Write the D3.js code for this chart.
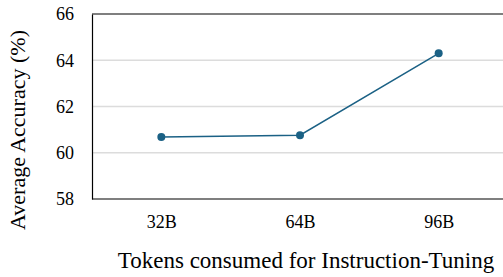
<!DOCTYPE html>
<html><head><meta charset="utf-8">
<script src="https://cdn.jsdelivr.net/npm/d3@7"></script>
<style>body{margin:0;background:#fff}svg{display:block}</style>
</head><body>
<svg id="c" width="503" height="277"></svg>
<script>
const categories = ["32B", "64B", "96B"];
const accuracy = [60.68, 60.76, 64.3];
const yTicks = [58, 60, 62, 64, 66];
const xTitle = "Tokens consumed for Instruction-Tuning";
const yTitle = "Average Accuracy (%)";

const svg = d3.select("#c");
const font = "'Liberation Serif','Times New Roman',serif";
const L = 92, R = 508, T = 14, B = 199;
const x = d3.scalePoint().domain(categories).range([L, R]).padding(0.5);
const y = d3.scaleLinear().domain([58, 66]).range([B, T]);

// gridlines
svg.append("g").selectAll("line").data(yTicks.filter(v => v > 58 && v < 66)).join("line")
  .attr("x1", L).attr("x2", 503).attr("y1", d => y(d)).attr("y2", d => y(d))
  .attr("stroke", "#dcdcdc").attr("stroke-width", 1.3);

// top border
svg.append("line").attr("x1", L).attr("x2", 503).attr("y1", y(66)).attr("y2", y(66))
  .attr("stroke", "#555").attr("stroke-width", 1.6);

// y axis
const ya = svg.append("g").attr("transform", `translate(${L},0)`)
  .call(d3.axisLeft(y).tickValues(yTicks).tickSize(0).tickPadding(18).tickFormat(d3.format("d")));
ya.select(".domain").attr("stroke", "#000").attr("stroke-width", 1.2);
ya.selectAll("text").attr("font-family", font).attr("font-size", 18).attr("fill", "#000");

// x axis
const xa = svg.append("g").attr("transform", `translate(0,${B})`)
  .call(d3.axisBottom(x).tickSize(0).tickPadding(16));
xa.select(".domain").attr("d", `M${L},0H503`).attr("stroke", "#000").attr("stroke-width", 1.2);
xa.selectAll("text").attr("font-family", font).attr("font-size", 18).attr("fill", "#000");

// line
const data = categories.map((c, i) => ({c, v: accuracy[i]}));
svg.append("path").datum(data)
  .attr("d", d3.line().x(d => x(d.c)).y(d => y(d.v)))
  .attr("fill", "none").attr("stroke", "#1b6185").attr("stroke-width", 1.5);
svg.append("g").selectAll("circle").data(data).join("circle")
  .attr("cx", d => x(d.c)).attr("cy", d => y(d.v)).attr("r", 4)
  .attr("fill", "#1b6185");

// titles
svg.append("text").attr("x", 306).attr("y", 267.5).attr("text-anchor", "middle")
  .attr("font-family", font).attr("font-size", 23).attr("fill", "#000").text(xTitle);
svg.append("text").attr("transform", "translate(25,130) rotate(-90)").attr("text-anchor", "middle")
  .attr("font-family", font).attr("font-size", 22).attr("fill", "#000").text(yTitle);
</script>
</body></html>
